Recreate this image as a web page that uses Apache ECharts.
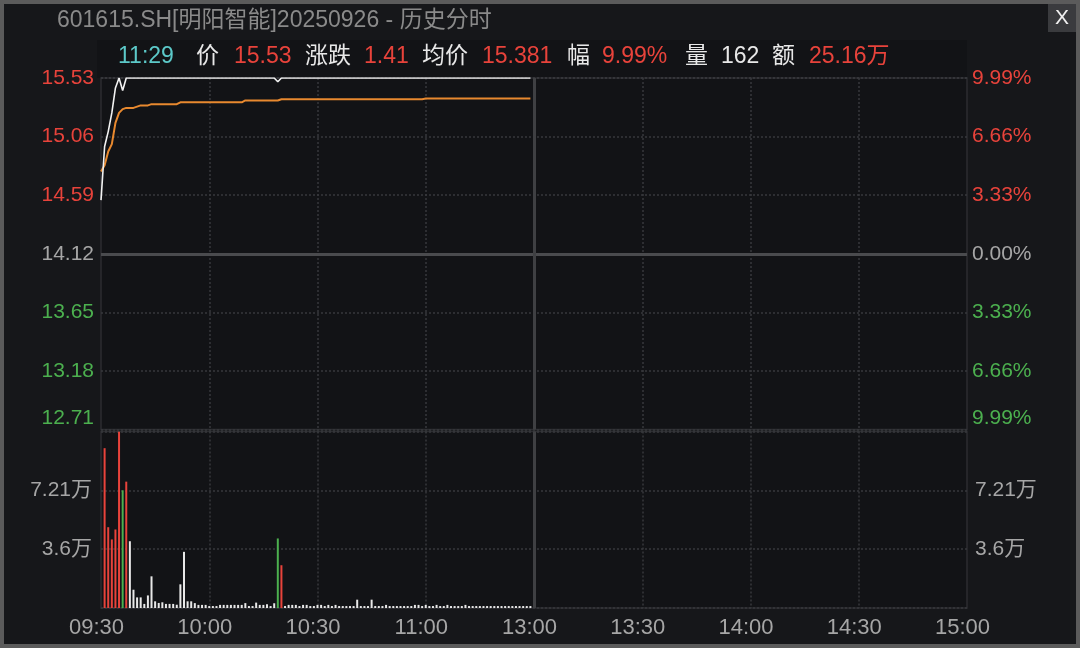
<!DOCTYPE html>
<html><head><meta charset="utf-8">
<script src="https://cdn.jsdelivr.net/npm/echarts@6/dist/echarts.min.js"></script>
<style>html,body{margin:0;padding:0;background:#15161a;}#c{width:1080px;height:648px;}</style>
</head><body><div id="c"></div>
<script>
// ---------------- data ----------------
const headerTitle = '601615.SH[明阳智能]20250926 - 历史分时';
const infoTexts = ['11:29','价','15.53','涨跌','1.41','均价','15.381','幅','9.99%','量','162','额','25.16万'];
const prevClose = 14.12;
const priceTicks = [12.71, 13.18, 13.65, 14.12, 14.59, 15.06, 15.53];
const pctTicks = ['9.99%','6.66%','3.33%','0.00%','3.33%','6.66%','9.99%'];
const volTicks = [0, 36040, 72080, 108120];
const volTickLabels = ['', '3.6万', '7.21万', ''];
const timeTickLabels = ['09:30','10:00','10:30','11:00','13:00','13:30','14:00','14:30','15:00'];

const price = [
14.55,14.98,15.10,15.25,15.45,15.53,15.43,15.53,15.53,15.53,
15.53,15.53,15.53,15.53,15.53,15.53,15.53,15.53,15.53,15.53,
15.53,15.53,15.53,15.53,15.53,15.53,15.53,15.53,15.53,15.53,
15.53,15.53,15.53,15.53,15.53,15.53,15.53,15.53,15.53,15.53,
15.53,15.53,15.53,15.53,15.53,15.53,15.53,15.53,15.53,15.50,
15.53,15.53,15.53,15.53,15.53,15.53,15.53,15.53,15.53,15.53,
15.53,15.53,15.53,15.53,15.53,15.53,15.53,15.53,15.53,15.53,
15.53,15.53,15.53,15.53,15.53,15.53,15.53,15.53,15.53,15.53,
15.53,15.53,15.53,15.53,15.53,15.53,15.53,15.53,15.53,15.53,
15.53,15.53,15.53,15.53,15.53,15.53,15.53,15.53,15.53,15.53,
15.53,15.53,15.53,15.53,15.53,15.53,15.53,15.53,15.53,15.53,
15.53,15.53,15.53,15.53,15.53,15.53,15.53,15.53,15.53,15.53
];
const avgPrice = [
14.78,14.83,14.94,15.00,15.17,15.25,15.28,15.29,15.29,15.29,
15.30,15.31,15.31,15.31,15.32,15.32,15.32,15.32,15.32,15.32,
15.32,15.32,15.335,15.335,15.335,15.335,15.335,15.335,15.335,15.335,
15.335,15.335,15.335,15.335,15.335,15.335,15.335,15.335,15.335,15.335,
15.35,15.35,15.35,15.35,15.35,15.35,15.35,15.35,15.35,15.35,
15.36,15.36,15.36,15.36,15.36,15.36,15.36,15.36,15.36,15.36,
15.36,15.36,15.36,15.36,15.36,15.36,15.36,15.36,15.36,15.36,
15.36,15.36,15.36,15.36,15.36,15.36,15.36,15.36,15.36,15.36,
15.36,15.36,15.36,15.36,15.36,15.36,15.36,15.36,15.36,15.36,
15.365,15.365,15.365,15.365,15.365,15.365,15.365,15.365,15.365,15.365,
15.365,15.365,15.365,15.365,15.365,15.365,15.365,15.365,15.365,15.365,
15.365,15.365,15.365,15.365,15.365,15.365,15.365,15.365,15.365,15.365
];
const volume = [
0,97900,49500,42000,48100,108000,72100,77400,40900,11200,
6500,6500,2500,7700,19400,4100,3100,3500,2500,2500,
2500,2000,14500,34400,4100,4100,3000,1900,1900,1900,
1200,1200,1200,1900,1900,1900,1900,1900,1900,1900,
3000,1200,1200,3300,1900,1900,2300,1200,2900,42600,
26200,1200,1900,1900,1900,1200,1900,1900,1200,1200,
1900,1900,1200,1900,1200,1900,1200,1200,1200,1200,
1200,5100,1200,1200,1200,5100,1200,1200,1200,1900,
1200,1200,1200,1200,1200,1200,1200,1900,1900,1200,
1900,1200,1200,1900,1200,1200,1900,1200,1200,1200,
1200,1900,1200,1200,1200,1200,1200,1200,1200,1200,
1200,1200,1200,1200,1200,1200,1200,1200,1200,1200
];

// ---------------- categories (minutes) ----------------
const times = [];
function pad(n){return (n<10?'0':'')+n;}
for (let m = 9*60+30; m <= 11*60+30; m++) times.push(pad(Math.floor(m/60))+':'+pad(m%60));
for (let m = 13*60+1; m <= 15*60; m++) times.push(pad(Math.floor(m/60))+':'+pad(m%60));

// ---------------- styles ----------------
const FONT = '"Liberation Sans","Noto Sans CJK SC",sans-serif';
const RED = '#e8433b', GREEN = '#4cb04f', GRAY = '#a6a6a6', WHITE = '#e8e8e8', CYAN = '#5cc9c9';
const DOT = {color:'#37383c', width:1.5, type:[2,2]};
const LEFT = 101, WIDTH = 866;

const pStep = priceTicks[1]-priceTicks[0];
const mid = priceTicks.indexOf(prevClose);
function pIdx(v){return Math.round((v-priceTicks[0])/pStep);}
function tone(k){return k>mid?'up':(k<mid?(k===0?'dnlo':'dn'):'flat');}
const rich = {
  up:{color:RED,fontSize:21,fontFamily:FONT},
  flat:{color:GRAY,fontSize:21,fontFamily:FONT},
  dn:{color:GREEN,fontSize:21,fontFamily:FONT},
  dnlo:{color:GREEN,fontSize:21,fontFamily:FONT,padding:[0,0,23,0]}
};

const barData = volume.map((v,i)=>{
  const prev = i===0?prevClose:price[i-1];
  const c = price[i]>prev?RED:(price[i]<prev?GREEN:WHITE);
  return {value:v, itemStyle:{color:c}};
});

// header graphics
const infoX = [118,196,234,305,364,422,482,567,602,685,721,772,809];
const infoColor = [CYAN,WHITE,RED,WHITE,RED,WHITE,RED,WHITE,RED,WHITE,WHITE,WHITE,RED];
const graphics = [
  {type:'rect', shape:{x:97,y:40,width:870,height:38}, style:{fill:'#121316'}, silent:true, z:-1},
  {type:'text', left:57, top:9, style:{text:headerTitle, fill:'#8a8a8a', font:'23px '+FONT}},
  {type:'rect', shape:{x:1048,y:3,width:28,height:29}, style:{fill:'#3a3b3e'}},
  {type:'text', x:1062, y:18, style:{text:'X', fill:'#f0f0f0', font:'21px '+FONT, align:'center', verticalAlign:'middle'}},
  {type:'rect', shape:{x:0,y:0,width:1080,height:648}, style:{fill:'none', stroke:'#5b5b5b', lineWidth:8}, silent:true}
];
infoTexts.forEach((t,i)=>{
  graphics.push({type:'text', x:infoX[i], y:57, style:{text:t, fill:infoColor[i], font:'23px '+FONT, verticalAlign:'middle'}});
});

const xSplit = {show:true, interval:(i)=> i%30===0 && i!==0 && i!==240 && i!==120, lineStyle:DOT};
const divider = {silent:true, symbol:['none','none'], label:{show:false}, animation:false,
  lineStyle:{type:'solid', color:'#3f4043', width:3}};

const option = {
  backgroundColor:'#16171a',
  animation:false,
  graphic: graphics,
  grid:[
    {left:LEFT, top:78, width:WIDTH, height:351.5, show:true, backgroundColor:'#121316', borderColor:'#2c2d31', borderWidth:1.5},
    {left:LEFT, top:431.5, width:WIDTH, height:176.5, show:true, backgroundColor:'#121316', borderColor:'#2c2d31', borderWidth:1.5}
  ],
  xAxis:[
    {type:'category', gridIndex:0, data:times, boundaryGap:false, axisLine:{show:false}, axisTick:{show:false}, axisLabel:{show:false}, splitLine:xSplit},
    {type:'category', gridIndex:1, data:times, boundaryGap:false, axisLine:{show:false}, axisTick:{show:false}, splitLine:xSplit,
      axisLabel:{interval:(i)=>i%30===0, formatter:(v,i)=> timeTickLabels[i/30] || '', color:GRAY, fontSize:22, fontFamily:FONT, margin:9, padding:[0,9,0,0]}}
  ],
  yAxis:[
    {type:'value', gridIndex:0, position:'left', min:priceTicks[0], max:priceTicks[priceTicks.length-1], interval:pStep,
      axisLine:{show:false}, axisTick:{show:false}, splitLine:{show:true, lineStyle:DOT},
      axisLabel:{margin:7, formatter:(v)=>{const k=pIdx(v); return '{'+tone(k)+'|'+priceTicks[k].toFixed(2)+'}';}, rich:rich}},
    {type:'value', gridIndex:0, position:'right', min:priceTicks[0], max:priceTicks[priceTicks.length-1], interval:pStep,
      axisLine:{show:false}, axisTick:{show:false}, splitLine:{show:false},
      axisLabel:{margin:5, formatter:(v)=>{const k=pIdx(v); return '{'+tone(k)+'|'+pctTicks[k]+'}';}, rich:rich}},
    {type:'value', gridIndex:1, position:'left', min:volTicks[0], max:volTicks[volTicks.length-1], interval:volTicks[1],
      axisLine:{show:false}, axisTick:{show:false}, splitLine:{show:true, lineStyle:DOT},
      axisLabel:{margin:9, color:GRAY, fontSize:21, fontFamily:FONT, formatter:(v)=> volTickLabels[Math.round(v/volTicks[1])] || ''}},
    {type:'value', gridIndex:1, position:'right', min:volTicks[0], max:volTicks[volTicks.length-1], interval:volTicks[1],
      axisLine:{show:false}, axisTick:{show:false}, splitLine:{show:false},
      axisLabel:{margin:8, color:GRAY, fontSize:21, fontFamily:FONT, formatter:(v)=> volTickLabels[Math.round(v/volTicks[1])] || ''}}
  ],
  series:[
    {type:'line', xAxisIndex:0, yAxisIndex:0, data:price, showSymbol:false, symbol:'none',
      lineStyle:{color:'#f2f2f2', width:1.6}, z:5,
      markLine:Object.assign({}, divider, {data:[{yAxis:prevClose, lineStyle:{color:'#4a4b4e', width:3, type:'solid'}}, {xAxis:times[120]}]})},
    {type:'line', xAxisIndex:0, yAxisIndex:0, data:avgPrice, showSymbol:false, symbol:'none',
      lineStyle:{color:'#e8892f', width:2}, z:4},
    {type:'bar', xAxisIndex:1, yAxisIndex:2, data:barData, barWidth:2,
      markLine:Object.assign({}, divider, {data:[{xAxis:times[120]}]})}
  ]
};
const chart = echarts.init(document.getElementById('c'), null, {renderer:'canvas'});
chart.setOption(option);
</script></body></html>
